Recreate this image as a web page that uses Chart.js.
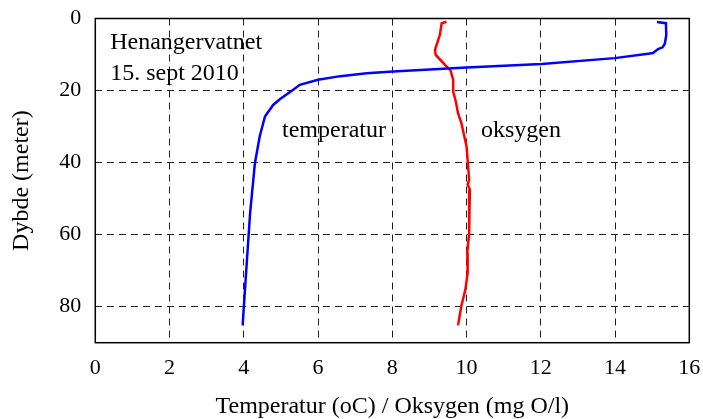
<!DOCTYPE html>
<html>
<head>
<meta charset="utf-8">
<script src="https://cdn.jsdelivr.net/npm/chart.js@4"></script>
<style>
  html, body { margin: 0; padding: 0; background: #fff; }
  #chart { display: block; }
</style>
</head>
<body>
<canvas id="chart" width="703" height="419"></canvas>
<script>
// Temperatur (oC) vs depth (m)
const tempDepth = [1.0, 1.3, 4.6, 7.0, 8.0, 8.5, 9.6, 9.8, 11.0, 12.6, 13.6, 14.7, 15.2, 16.0, 17.0, 18.4, 19.8, 22.4, 24.0, 27.2, 32.7, 40.1, 54.0, 67.8, 81.7, 85.2];
const tempValues = [15.13, 15.37, 15.38, 15.34, 15.28, 15.16, 15.02, 14.89, 13.99, 12.02, 10.0, 8.02, 7.31, 6.6, 6.0, 5.51, 5.33, 4.97, 4.79, 4.57, 4.43, 4.30, 4.17, 4.08, 3.99, 3.97];

// Oksygen (mg O/l) vs depth (m)
const oxyDepth = [0.9, 1.3, 4.6, 8.7, 10.1, 12.9, 14.5, 17.0, 20.3, 23.0, 26.3, 29.0, 35.5, 44.7, 46.1, 47.5, 59.5, 65.0, 70.6, 75.2, 79.8, 85.2];
const oxyValues = [9.46, 9.33, 9.28, 9.15, 9.17, 9.42, 9.57, 9.64, 9.64, 9.71, 9.77, 9.86, 10.0, 10.07, 10.03, 10.09, 10.07, 10.02, 10.03, 9.97, 9.86, 9.77];

// text labels inside the plot, placed in data units
const noteTexts = ['Henangervatnet', '15. sept 2010', 'temperatur', 'oksygen'];
const noteX = [0.4, 0.4, 5.03, 10.39];
const noteY = [6.8, 15.4, 31.2, 31.2];

const serif = "'Liberation Serif', 'DejaVu Serif', serif";

function toPoints(xs, ys) {
    return xs.map((v, i) => ({ x: v, y: ys[i] }));
}

const boxAndNotes = {
    id: 'boxAndNotes',
    afterDatasetsDraw(chart) {
        const { ctx, chartArea, scales } = chart;
        ctx.save();
        ctx.fillStyle = '#000';
        ctx.textBaseline = 'middle';
        ctx.textAlign = 'left';
        ctx.font = '24px ' + serif;
        noteTexts.forEach((t, i) => {
            ctx.fillText(t, scales.x.getPixelForValue(noteX[i]), scales.y.getPixelForValue(noteY[i]));
        });
        ctx.strokeStyle = '#000';
        ctx.lineWidth = 1.5;
        ctx.strokeRect(chartArea.left, chartArea.top, chartArea.right - chartArea.left, chartArea.bottom - chartArea.top);
        ctx.restore();
    }
};

const gridColor = (edges) => (c) => edges.includes(c.tick.value) ? 'rgba(0,0,0,0)' : '#222';

new Chart(document.getElementById('chart'), {
    type: 'scatter',
    data: {
        datasets: [
            {
                label: 'temperatur',
                data: toPoints(tempValues, tempDepth),
                showLine: true,
                borderColor: '#0000ff',
                borderWidth: 2.5,
                pointRadius: 0,
                tension: 0
            },
            {
                label: 'oksygen',
                data: toPoints(oxyValues, oxyDepth),
                showLine: true,
                borderColor: '#ff0000',
                borderWidth: 2.5,
                pointRadius: 0,
                tension: 0
            }
        ]
    },
    options: {
        responsive: false,
        animation: false,
        devicePixelRatio: 1,
        layout: { padding: { top: 18.5, right: 13.7, left: 0, bottom: 0 } },
        plugins: {
            legend: { display: false },
            tooltip: { enabled: false }
        },
        scales: {
            x: {
                type: 'linear',
                min: 0,
                max: 16,
                ticks: { stepSize: 2, color: '#000', font: { family: serif, size: 22 }, padding: 12 },
                grid: { color: gridColor([0, 16]), drawTicks: false },
                border: { display: false, dash: [7, 5] },
                title: { display: true, text: 'Temperatur (oC) / Oksygen (mg O/l)', color: '#000', font: { family: serif, size: 24, lineHeight: 1 }, padding: 0 },
                afterFit(scale) {
                    scale.height = 76.3;
                    scale.paddingLeft = 0;
                    scale.paddingRight = 0;
                }
            },
            y: {
                type: 'linear',
                reverse: true,
                min: 0,
                max: 90,
                afterBuildTicks(scale) { scale.ticks = scale.ticks.filter(t => t.value % 20 === 0); },
                ticks: { stepSize: 20, color: '#000', font: { family: serif, size: 22 }, padding: 14 },
                grid: { color: gridColor([0, 90]), drawTicks: false },
                border: { display: false, dash: [7, 5] },
                title: { display: true, text: 'Dybde (meter)', color: '#000', font: { family: serif, size: 24, lineHeight: 1 }, padding: 10 },
                afterFit(scale) {
                    scale.width = 95.3;
                    scale.paddingTop = 0;
                    scale.paddingBottom = 0;
                }
            }
        }
    },
    plugins: [boxAndNotes]
});
</script>
</body>
</html>
